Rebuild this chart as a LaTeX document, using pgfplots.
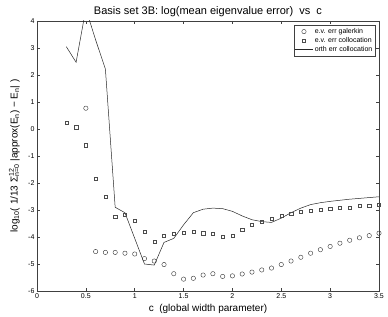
\documentclass[border=0pt]{standalone}
\usepackage{fontspec}
\setmainfont{Liberation Sans}
\usepackage{pgfplots}
\pgfplotsset{compat=1.18}
\pgfplotstableread{
x y
0.5 0.77
0.6 -4.54
0.7 -4.57
0.8 -4.57
0.9 -4.60
1.0 -4.63
1.1 -4.80
1.2 -4.89
1.3 -5.02
1.4 -5.36
1.5 -5.56
1.6 -5.53
1.7 -5.41
1.8 -5.36
1.9 -5.46
2.0 -5.44
2.1 -5.37
2.2 -5.30
2.3 -5.22
2.4 -5.15
2.5 -5.02
2.6 -4.89
2.7 -4.75
2.8 -4.60
2.9 -4.47
3.0 -4.35
3.1 -4.23
3.2 -4.12
3.3 -4.03
3.4 -3.95
3.5 -3.86
}\galerkin
\pgfplotstableread{
x y
0.3 0.23
0.4 0.07
0.5 -0.60
0.6 -1.83
0.7 -2.52
0.8 -3.26
0.9 -3.16
1.0 -3.38
1.1 -3.79
1.2 -4.16
1.3 -3.96
1.4 -3.88
1.5 -3.83
1.6 -3.80
1.7 -3.86
1.8 -3.88
1.9 -4.00
2.0 -3.95
2.1 -3.72
2.2 -3.53
2.3 -3.42
2.4 -3.31
2.5 -3.21
2.6 -3.14
2.7 -3.07
2.8 -3.02
2.9 -2.99
3.0 -2.96
3.1 -2.91
3.2 -2.90
3.3 -2.85
3.4 -2.83
3.5 -2.79
}\colloc
\pgfplotstableread{
x y
0.3 3.05
0.4 2.47
0.5 4.45
0.6 3.30
0.7 2.22
0.8 -2.90
0.9 -3.10
1.0 -4.05
1.1 -5.00
1.2 -5.04
1.3 -4.20
1.4 -4.05
1.5 -3.55
1.6 -3.10
1.7 -2.97
1.8 -2.93
1.9 -2.95
2.0 -3.05
2.1 -3.22
2.2 -3.36
2.3 -3.43
2.4 -3.46
2.5 -3.30
2.6 -3.10
2.7 -2.93
2.8 -2.80
2.9 -2.73
3.0 -2.68
3.1 -2.64
3.2 -2.60
3.3 -2.57
3.4 -2.54
3.5 -2.51
}\orth
\begin{document}
\begin{tikzpicture}
\begin{axis}[
  at={(0,0)}, anchor=south west,
  width=342pt, height=270pt, scale only axis,
  xmin=0, xmax=3.5, ymin=-6, ymax=4,
  xtick={0,0.5,1,1.5,2,2.5,3,3.5},
  xticklabels={0,0.5,1,1.5,2,2.5,3,3.5},
  ytick={-6,-5,-4,-3,-2,-1,0,1,2,3,4},
  tick align=inside,
  major tick length=3.5pt,
  axis line style={black!75, line width=0.6pt},
  every tick/.style={black!75, line width=0.5pt},
  tick label style={font=\fontsize{7}{8}\selectfont},
  /pgf/number format/assume math mode=true,
  xticklabel style={yshift=1pt},
  yticklabel style={xshift=1pt},
  title={Basis set 3B: log(mean eigenvalue error)\ \ vs\ \ c},
  every axis title/.style={font=\fontsize{11}{12}\selectfont, at={(axis description cs:0.5,1)}, anchor=base, yshift=6pt},
  xlabel={c\ \ (global width parameter)},
  every axis x label/.style={font=\fontsize{10}{11}\selectfont, at={(axis description cs:0.5,0)}, anchor=base, yshift=-20pt},
  ylabel={log\textsubscript{10}( 1/13 Σ\rlap{\textsuperscript{12}}\textsubscript{n=0} |approx(E\textsubscript{n}) − E\textsubscript{n}| )},
  every axis y label/.style={font=\fontsize{10}{11}\selectfont, at={(axis description cs:-0.066,0.5)}, anchor=center, rotate=90},
  legend style={at={(0.99,0.985)}, anchor=north east, font=\fontsize{7}{8}\selectfont,
    draw=black!75, line width=0.5pt, inner sep=1pt, row sep=-1.5pt,
    cells={anchor=west}},
  legend cell align=left,
  clip=true,
]
\addplot[only marks, mark=o, mark size=2.2pt, black!80, mark options={line width=0.4pt}] table[x=x,y=y]{\galerkin};
\addlegendentry{e.v. err galerkin}
\addplot[only marks, mark=square, mark size=1.6pt, black!70, mark options={line width=0.3pt}] table[x=x,y=y]{\colloc};
\addlegendentry{e.v. err collocation}
\addplot[no marks, black!85, line width=0.5pt] table[x=x,y=y]{\orth};
\addlegendentry{orth err collocation}
\end{axis}
\pgfresetboundingbox
\path (-37pt,-25pt) rectangle (351pt,291pt);
\end{tikzpicture}
\end{document}
